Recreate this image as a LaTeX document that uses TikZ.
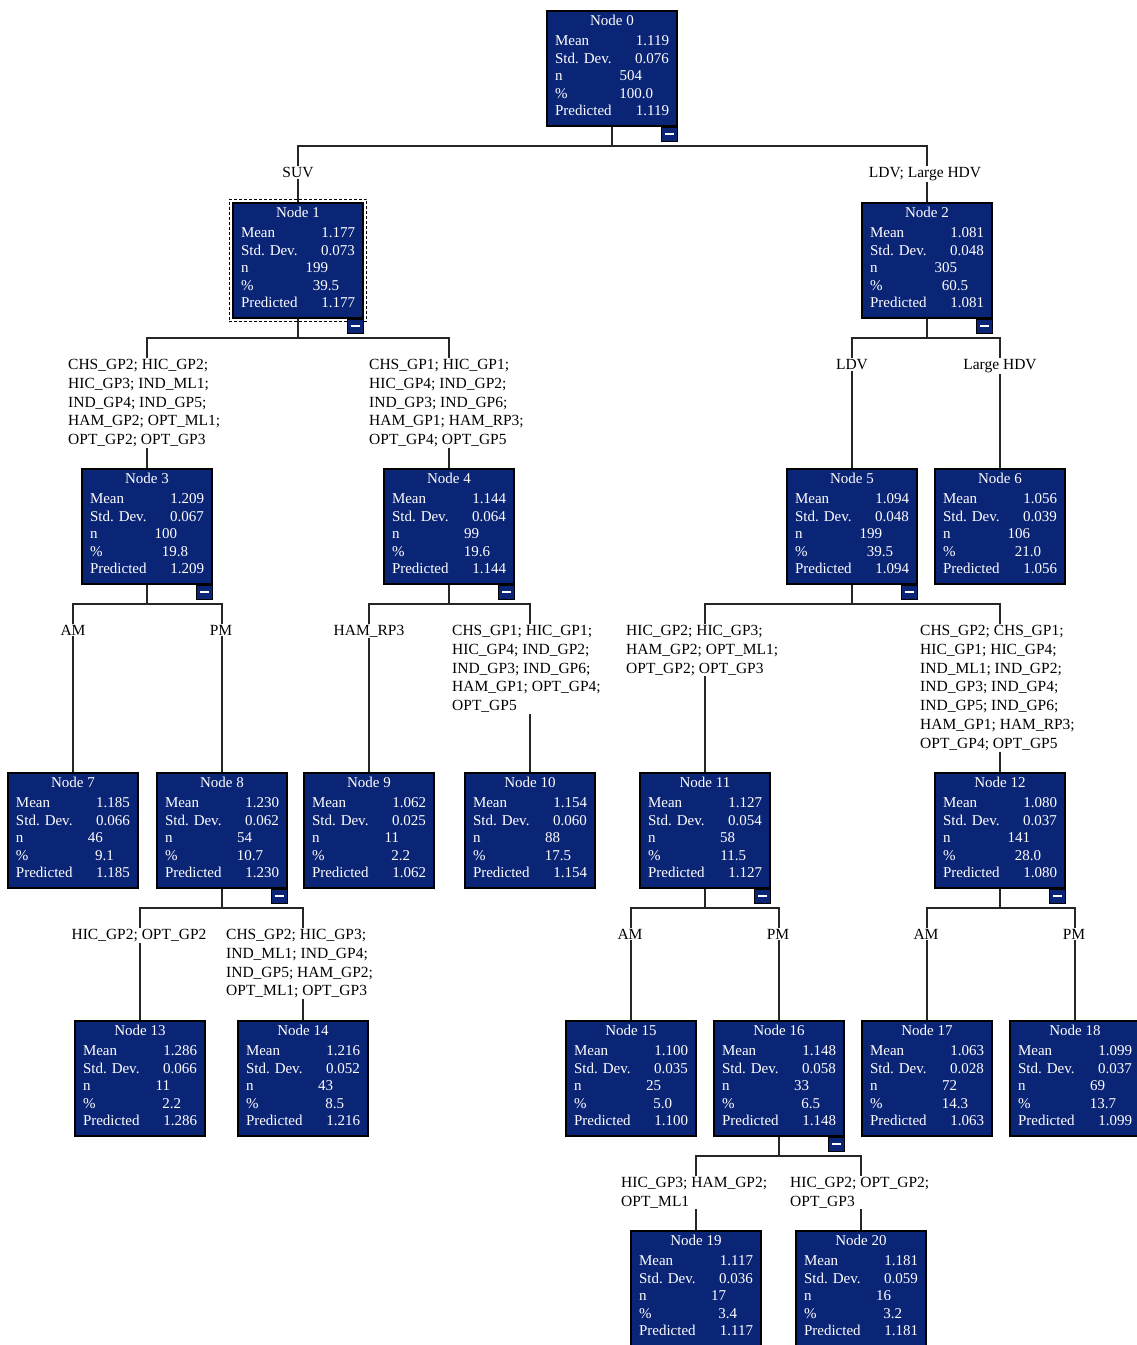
\documentclass[tikz,border=0pt]{standalone}
\usepackage{fontspec}
\setmainfont{Liberation Serif}
\usetikzlibrary{fit}
\definecolor{treeblue}{RGB}{10,36,118}

\newcommand{\nodestats}[6]{%
  \begin{tabular*}{114pt}{@{}l@{\extracolsep{\fill}}r@{}}
  \multicolumn{2}{c}{Node #1}\\[3pt]
  Mean & #2\\
  Std. Dev. & #3\\
  n & #4\hspace*{27pt}\\
  \% & #5\hspace*{16pt}\\
  Predicted & #6\\[3pt]
  \end{tabular*}}
\newcommand{\collapsemark}[1]{%
  \node[collapsebox, anchor=north east] (#1m) at (#1.south east) {};
  \draw[white, line width=1.6pt] ([xshift=-4.5pt]#1m.center) -- ([xshift=4.5pt]#1m.center);}

\begin{document}
\begin{tikzpicture}[
    x=1pt, y=-1pt,
    box/.style={draw=black, line width=1.5pt, fill=treeblue, text=white, anchor=north,
      minimum width=130pt, minimum height=115pt, inner sep=0pt, font=\fontsize{15}{17.5}\selectfont},
    collapsebox/.style={draw=black, line width=1pt, fill=treeblue, minimum width=16pt, minimum height=14pt, inner sep=0pt},
    lbl/.style={fill=white, inner sep=1pt, align=left, font=\fontsize{15.5}{18.8}\selectfont},
    edge/.style={line width=1.1pt, black!85}
]
\useasboundingbox (0,0) rectangle (1137,1345);

\node[box] (n0) at (612,10) {\nodestats{0}{1.119}{0.076}{504}{100.0}{1.119}};
\node[box] (n1) at (298,202) {\nodestats{1}{1.177}{0.073}{199}{39.5}{1.177}};
\node[box] (n2) at (927,202) {\nodestats{2}{1.081}{0.048}{305}{60.5}{1.081}};
\node[box] (n3) at (147,468) {\nodestats{3}{1.209}{0.067}{100}{19.8}{1.209}};
\node[box] (n4) at (449,468) {\nodestats{4}{1.144}{0.064}{99}{19.6}{1.144}};
\node[box] (n5) at (852,468) {\nodestats{5}{1.094}{0.048}{199}{39.5}{1.094}};
\node[box] (n6) at (1000,468) {\nodestats{6}{1.056}{0.039}{106}{21.0}{1.056}};
\node[box] (n7) at (73,772) {\nodestats{7}{1.185}{0.066}{46}{9.1}{1.185}};
\node[box] (n8) at (222,772) {\nodestats{8}{1.230}{0.062}{54}{10.7}{1.230}};
\node[box] (n9) at (369,772) {\nodestats{9}{1.062}{0.025}{11}{2.2}{1.062}};
\node[box] (n10) at (530,772) {\nodestats{10}{1.154}{0.060}{88}{17.5}{1.154}};
\node[box] (n11) at (705,772) {\nodestats{11}{1.127}{0.054}{58}{11.5}{1.127}};
\node[box] (n12) at (1000,772) {\nodestats{12}{1.080}{0.037}{141}{28.0}{1.080}};
\node[box] (n13) at (140,1020) {\nodestats{13}{1.286}{0.066}{11}{2.2}{1.286}};
\node[box] (n14) at (303,1020) {\nodestats{14}{1.216}{0.052}{43}{8.5}{1.216}};
\node[box] (n15) at (631,1020) {\nodestats{15}{1.100}{0.035}{25}{5.0}{1.100}};
\node[box] (n16) at (779,1020) {\nodestats{16}{1.148}{0.058}{33}{6.5}{1.148}};
\node[box] (n17) at (927,1020) {\nodestats{17}{1.063}{0.028}{72}{14.3}{1.063}};
\node[box] (n18) at (1075,1020) {\nodestats{18}{1.099}{0.037}{69}{13.7}{1.099}};
\node[box] (n19) at (696,1230) {\nodestats{19}{1.117}{0.036}{17}{3.4}{1.117}};
\node[box] (n20) at (861,1230) {\nodestats{20}{1.181}{0.059}{16}{3.2}{1.181}};

\node[draw, dashed, line width=1pt, dash pattern=on 3pt off 2pt, fit=(n1), inner sep=3pt] (sel) {};

\foreach \p/\c in {n0/n1, n0/n2, n1/n3, n1/n4, n2/n5, n2/n6, n3/n7, n3/n8, n4/n9, n4/n10,
    n5/n11, n5/n12, n8/n13, n8/n14, n11/n15, n11/n16, n12/n17, n12/n18, n16/n19, n16/n20}
  \draw[edge] (\p.south) -- ++(0,19.5) -| (\c.north);

\node[lbl, anchor=north] (l1) at (298,166) {SUV};
\node[lbl, anchor=north] (l2) at (925,166) {LDV; Large HDV};
\node[lbl, anchor=north west] (l3) at (67,358) {CHS\_GP2; HIC\_GP2;\\HIC\_GP3; IND\_ML1;\\IND\_GP4; IND\_GP5;\\HAM\_GP2; OPT\_ML1;\\OPT\_GP2; OPT\_GP3};
\node[lbl, anchor=north west] (l4) at (368,358) {CHS\_GP1; HIC\_GP1;\\HIC\_GP4; IND\_GP2;\\IND\_GP3; IND\_GP6;\\HAM\_GP1; HAM\_RP3;\\OPT\_GP4; OPT\_GP5};
\node[lbl, anchor=north] (l5) at (852,358) {LDV};
\node[lbl, anchor=north] (l6) at (1000,358) {Large HDV};
\node[lbl, anchor=north] (l7) at (73,624) {AM};
\node[lbl, anchor=north] (l8) at (221,624) {PM};
\node[lbl, anchor=north] (l9) at (369,624) {HAM\_RP3};
\node[lbl, anchor=north west] (l10) at (451,624) {CHS\_GP1; HIC\_GP1;\\HIC\_GP4; IND\_GP2;\\IND\_GP3; IND\_GP6;\\HAM\_GP1; OPT\_GP4;\\OPT\_GP5};
\node[lbl, anchor=north west] (l11) at (625,624) {HIC\_GP2; HIC\_GP3;\\HAM\_GP2; OPT\_ML1;\\OPT\_GP2; OPT\_GP3};
\node[lbl, anchor=north west] (l12) at (919,624) {CHS\_GP2; CHS\_GP1;\\HIC\_GP1; HIC\_GP4;\\IND\_ML1; IND\_GP2;\\IND\_GP3; IND\_GP4;\\IND\_GP5; IND\_GP6;\\HAM\_GP1; HAM\_RP3;\\OPT\_GP4; OPT\_GP5};
\node[lbl, anchor=north] (l13) at (139,928) {HIC\_GP2; OPT\_GP2};
\node[lbl, anchor=north west] (l14) at (225,928) {CHS\_GP2; HIC\_GP3;\\IND\_ML1; IND\_GP4;\\IND\_GP5; HAM\_GP2;\\OPT\_ML1; OPT\_GP3};
\node[lbl, anchor=north] (l15) at (630,928) {AM};
\node[lbl, anchor=north] (l16) at (778,928) {PM};
\node[lbl, anchor=north] (l17) at (926,928) {AM};
\node[lbl, anchor=north] (l18) at (1074,928) {PM};
\node[lbl, anchor=north west] (l19) at (620,1176) {HIC\_GP3; HAM\_GP2;\\OPT\_ML1};
\node[lbl, anchor=north west] (l20) at (789,1176) {HIC\_GP2; OPT\_GP2;\\OPT\_GP3};

\collapsemark{n0}
\collapsemark{n1}
\collapsemark{n2}
\collapsemark{n3}
\collapsemark{n4}
\collapsemark{n5}
\collapsemark{n8}
\collapsemark{n11}
\collapsemark{n12}
\collapsemark{n16}
\end{tikzpicture}
\end{document}
